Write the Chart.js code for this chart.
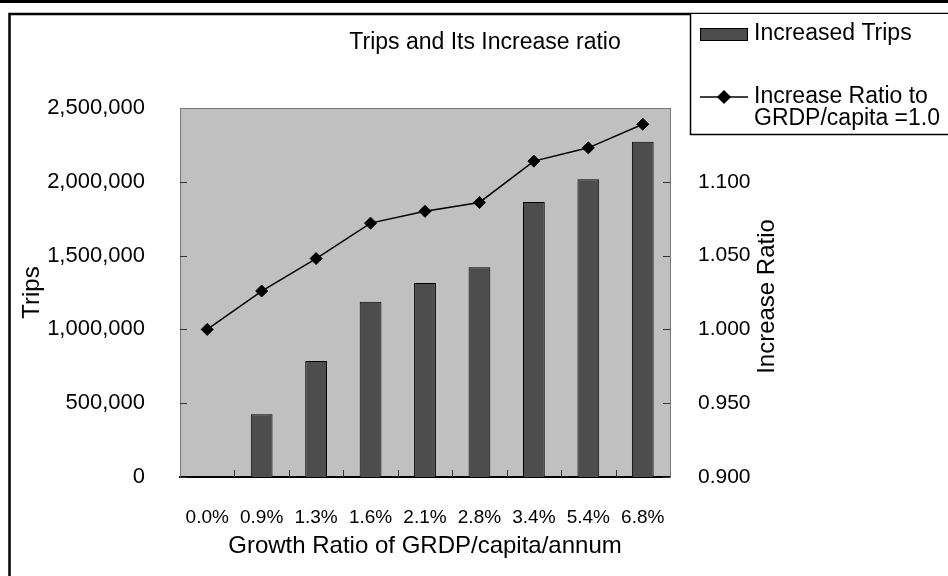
<!DOCTYPE html>
<html>
<head>
<meta charset="utf-8">
<title>Trips and Its Increase ratio</title>
<script src="https://cdn.jsdelivr.net/npm/chart.js@4/dist/chart.umd.min.js"></script>
<style>
  html, body { margin: 0; padding: 0; background: #fff; }
  #wrap { width: 948px; height: 576px; }
</style>
</head>
<body>
<div id="wrap"><canvas id="c" width="948" height="576"></canvas></div>
<script>
// Growth ratio of GRDP per capita per annum (categories)
const growthRatios = ['0.0%', '0.9%', '1.3%', '1.6%', '2.1%', '2.8%', '3.4%', '5.4%', '6.8%'];
// Increased trips for each growth scenario (left axis)
const increasedTrips = [0, 425000, 786000, 1188000, 1314000, 1421000, 1863000, 2017000, 2272000];
// Increase ratio relative to GRDP/capita = 1.0 (right axis)
const increaseRatio = [1.000, 1.026, 1.048, 1.072, 1.080, 1.086, 1.114, 1.123, 1.139];

// Axis ranges and tick steps
const tripsAxis = { min: 0, max: 2500000, step: 500000 };
const ratioAxis = { min: 0.9, max: 1.15, step: 0.05 };

// Text
const chartTitle = 'Trips and Its Increase ratio';
const xTitle = 'Growth Ratio of GRDP/capita/annum';
const yTitle = 'Trips';
const y1Title = 'Increase Ratio';
const barLabel = ['Increased Trips'];
const lineLabel = ['Increase Ratio to', 'GRDP/capita =1.0'];

const FONT = '"Liberation Sans", Arial, Helvetica, sans-serif';
const BAR_FILL = '#4d4d4d';
const PLOT_BG = '#c0c0c0';

const fmtThousands = v => String(Math.round(v)).replace(/\B(?=(\d{3})+(?!\d))/g, ',');

const decor = {
  id: 'decor',
  beforeDraw(chart) {
    const { ctx, chartArea: a } = chart;
    ctx.save();
    ctx.fillStyle = '#fff';
    ctx.fillRect(0, 0, chart.width, chart.height);
    ctx.fillStyle = PLOT_BG;
    ctx.fillRect(a.left, a.top, a.right - a.left, a.bottom - a.top);
    ctx.restore();
  },
  afterDatasetsDraw(chart) {
    const { ctx, chartArea: a, scales } = chart;
    ctx.save();
    ctx.strokeStyle = '#333';
    ctx.lineWidth = 1;
    ctx.beginPath();
    // inward tick marks on the left and right value axes
    scales.y.ticks.forEach(t => {
      const y = Math.round(scales.y.getPixelForValue(t.value)) + 0.5;
      ctx.moveTo(a.left, y); ctx.lineTo(a.left + 7, y);
    });
    scales.y1.ticks.forEach(t => {
      const y = Math.round(scales.y1.getPixelForValue(t.value)) + 0.5;
      ctx.moveTo(a.right - 7, y); ctx.lineTo(a.right, y);
    });
    // category boundary ticks on the x axis
    const n = growthRatios.length;
    for (let i = 1; i < n; i++) {
      const x = Math.round((scales.x.getPixelForValue(i - 1) + scales.x.getPixelForValue(i)) / 2) + 0.5;
      ctx.moveTo(x, a.bottom); ctx.lineTo(x, a.bottom - 7);
    }
    ctx.stroke();
    // thin top edge of the plot area
    ctx.strokeStyle = '#777';
    ctx.beginPath();
    ctx.moveTo(a.left, a.top + 0.5); ctx.lineTo(a.right, a.top + 0.5);
    ctx.stroke();
    ctx.restore();
  },
  afterDraw(chart) {
    const { ctx, chartArea: a } = chart;
    const W = chart.width, H = chart.height;
    ctx.save();

    // outer frame
    ctx.fillStyle = '#000';
    ctx.fillRect(0, 0, W, 3);
    ctx.strokeStyle = '#000';
    ctx.lineWidth = 2.5;
    ctx.beginPath();
    ctx.moveTo(9.5, H + 5); ctx.lineTo(9.5, 14); ctx.lineTo(W + 5, 14);
    ctx.stroke();

    // chart title
    ctx.fillStyle = '#000';
    ctx.textBaseline = 'middle';
    ctx.textAlign = 'center';
    ctx.font = '23px ' + FONT;
    ctx.fillText(chartTitle, 485, 43);

    // right axis title, reading bottom to top
    ctx.save();
    ctx.translate(767, (a.top + a.bottom) / 2 + 4);
    ctx.rotate(-Math.PI / 2);
    ctx.font = '24px ' + FONT;
    ctx.fillText(y1Title, 0, 0);
    ctx.restore();

    // legend box
    const lx = 690, ly = 14, lb = 134;
    ctx.fillStyle = '#fff';
    ctx.fillRect(lx, ly, W - lx + 5, lb - ly);
    ctx.strokeStyle = '#000';
    ctx.lineWidth = 1.5;
    ctx.beginPath();
    ctx.moveTo(lx + 0.5, ly); ctx.lineTo(lx + 0.5, lb + 0.5); ctx.lineTo(W + 5, lb + 0.5);
    ctx.stroke();

    const barDs = chart.data.datasets[0];
    const lineDs = chart.data.datasets[1];
    // bar swatch
    ctx.fillStyle = barDs.backgroundColor;
    ctx.fillRect(700, 28, 48, 13);
    ctx.strokeStyle = barDs.borderColor;
    ctx.lineWidth = 1;
    ctx.strokeRect(700.5, 28.5, 47, 12);
    // line swatch
    ctx.strokeStyle = lineDs.borderColor;
    ctx.lineWidth = lineDs.borderWidth;
    ctx.beginPath();
    ctx.moveTo(700, 97); ctx.lineTo(748, 97);
    ctx.stroke();
    ctx.fillStyle = lineDs.pointBackgroundColor;
    Chart.helpers.drawPoint(ctx, {
      pointStyle: lineDs.pointStyle, radius: lineDs.pointRadius,
      borderWidth: lineDs.pointBorderWidth, rotation: 0
    }, 724, 97);
    ctx.fill();

    ctx.fillStyle = '#000';
    ctx.textAlign = 'left';
    ctx.font = '23px ' + FONT;
    ctx.fillText(barLabel[0], 754, 34);
    ctx.fillText(lineLabel[0], 754, 97);
    ctx.fillText(lineLabel[1], 754, 119);

    ctx.restore();
  }
};

new Chart(document.getElementById('c'), {
  data: {
    labels: growthRatios,
    datasets: [
      {
        type: 'bar',
        label: barLabel.join(' '),
        data: increasedTrips,
        yAxisID: 'y',
        backgroundColor: BAR_FILL,
        borderColor: '#000',
        borderWidth: 1,
        borderSkipped: 'bottom',
        categoryPercentage: 1,
        barPercentage: 0.4,
        order: 1
      },
      {
        type: 'line',
        label: lineLabel.join(' '),
        data: increaseRatio,
        yAxisID: 'y1',
        borderColor: '#000',
        borderWidth: 1.5,
        pointStyle: 'rectRot',
        pointRadius: 6,
        pointBorderWidth: 1,
        pointBackgroundColor: '#000',
        pointBorderColor: '#000',
        tension: 0,
        order: 0
      }
    ]
  },
  options: {
    responsive: false,
    animation: false,
    devicePixelRatio: 1,
    layout: { padding: { left: 0, right: 160, top: 108, bottom: 0 } },
    plugins: {
      legend: { display: false },
      title: { display: false },
      tooltip: { enabled: false }
    },
    scales: {
      x: {
        type: 'category',
        offset: true,
        grid: { display: false },
        border: { display: true, color: '#000', width: 2 },
        ticks: { color: '#000', font: { family: FONT, size: 19 }, padding: 21, maxRotation: 0, autoSkip: false },
        title: { display: true, text: xTitle, color: '#000', font: { family: FONT, size: 24 }, padding: { top: 0, bottom: 15.6 } },
        afterFit(s) { s.height = 99; }
      },
      y: {
        type: 'linear',
        position: 'left',
        min: tripsAxis.min,
        max: tripsAxis.max,
        grid: { display: false },
        border: { display: true, color: '#777', width: 1 },
        ticks: { stepSize: tripsAxis.step, color: '#000', font: { family: FONT, size: 22 }, padding: 27, callback: v => fmtThousands(v) },
        title: { display: true, text: yTitle, color: '#000', font: { family: FONT, size: 24 }, padding: { top: 17.6, bottom: 0 } },
        afterFit(s) { s.width = 180; }
      },
      y1: {
        type: 'linear',
        position: 'right',
        min: ratioAxis.min,
        max: ratioAxis.max,
        grid: { display: false },
        border: { display: true, color: '#777', width: 1 },
        ticks: { stepSize: ratioAxis.step, color: '#000', font: { family: FONT, size: 21 }, padding: 20, callback: v => Number(v).toFixed(3) },
        afterFit(s) { s.width = 118; }
      }
    }
  },
  plugins: [decor]
});
</script>
</body>
</html>
